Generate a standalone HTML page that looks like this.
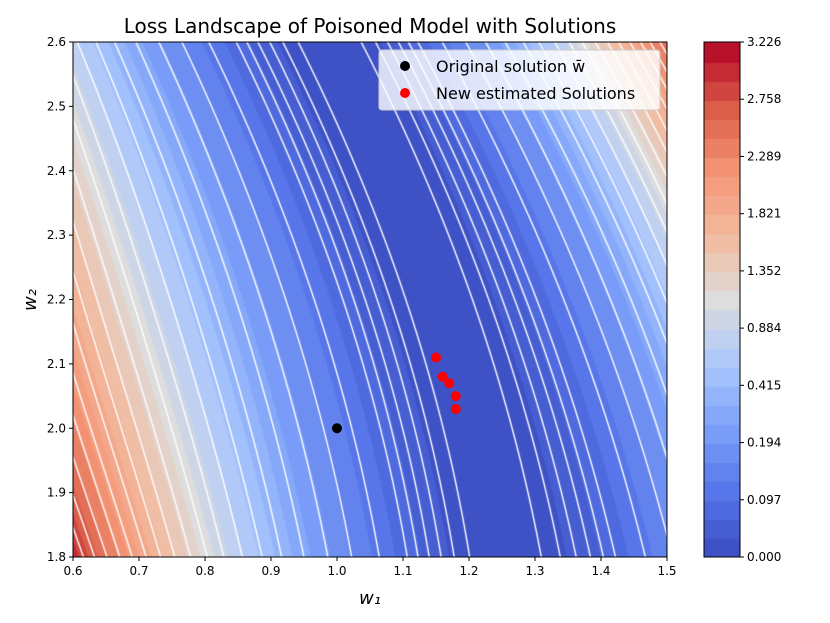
<!DOCTYPE html>
<html><head><meta charset="utf-8"><style>
body{margin:0;background:#fff;font-family:"DejaVu Sans","Liberation Sans",sans-serif}
#wrap{position:relative;width:830px;height:623px}
canvas{position:absolute}
svg{position:absolute;left:0;top:0}
</style></head><body>
<div id="wrap">
<canvas id="plot" width="594" height="515" style="left:73px;top:42px"></canvas>
<canvas id="cbar" width="36" height="515" style="left:704px;top:42px"></canvas>
<svg id="ov" width="830" height="623"></svg>
</div>
<script>
// data
const cbTicks=[0,0.097,0.194,0.415,0.884,1.352,1.821,2.289,2.758,3.226];
const valleyCenter=[1.21,-0.2417,-0.208]; // w1 center = a + b(w2-2) + e(w2-2)^2
const slopeLeft=[3.2];
const cubicLeft=[3.5,-2.5,9.0];  // a + b*z + e*z^2, z=w2-2
const slopeRight=[3.5,2.2];      // [top, bottom]
const cubicRight=[9.0];
const flatWidth=[0.07];
const lineLevels=[0.05,0.1,0.15,0.2,0.25,0.3,0.44,0.59,0.73,0.88,1.03,1.17,1.32,1.47,1.61,1.76,1.91,2.05,2.2,2.35,2.49,2.64,2.79,2.93,3.08];
const xTicks=[0.6,0.7,0.8,0.9,1.0,1.1,1.2,1.3,1.4,1.5];
const yTicks=[1.8,1.9,2.0,2.1,2.2,2.3,2.4,2.5,2.6];
const origW1=[1.0], origW2=[2.0];
const newW1=[1.15,1.16,1.17,1.18,1.18];
const newW2=[2.11,2.08,2.07,2.05,2.03];

const X0=73,X1=667,Y0=557,Y1=42;
const sx=v=>X0+(v-0.6)/(1.5-0.6)*(X1-X0);
const sy=v=>Y0-(v-1.8)/(2.6-1.8)*(Y0-Y1);
const VMAX=cbTicks[cbTicks.length-1];
const NB=27;
const anchors=[[0,[58,76,192]],[0.125,[85,116,232]],[0.25,[123,159,248]],[0.375,[170,199,253]],[0.5,[221,221,221]],[0.625,[242,185,158]],[0.75,[244,150,118]],[0.875,[218,92,72]],[1,[180,4,38]]];
function cw(t){for(let i=1;i<anchors.length;i++){if(t<=anchors[i][0]){const a=anchors[i-1],b=anchors[i],f=(t-a[0])/(b[0]-a[0]);return a[1].map((c,k)=>Math.round(c+(b[1][k]-c)*f));}}return anchors[8][1];}
function loss(w1,w2){
 const z=w2-2.0;
 const c=valleyCenter[0]+valleyCenter[1]*z+valleyCenter[2]*z*z;
 const f=(2.6-w2)/0.8;
 const d=w1-c, ad=Math.abs(d), s=flatWidth[0];
 const base=Math.sqrt(ad*ad+s*s)-s;
 if(d<0) return slopeLeft[0]*base+(cubicLeft[0]+cubicLeft[1]*z+cubicLeft[2]*z*z)*ad*ad*ad;
 return (slopeRight[0]+(slopeRight[1]-slopeRight[0])*f)*base+cubicRight[0]*ad*ad*ad;}
function band(L){return Math.max(0,Math.min(NB-1,Math.floor(L/VMAX*NB)));}
const cols=[];for(let b=0;b<NB;b++)cols.push(cw((b+0.5)/NB));
const c=document.getElementById('plot'),ctx=c.getContext('2d');
const W=c.width,H=c.height,img=ctx.createImageData(W,H);
const Lg=new Float32Array((W+2)*(H+2));
for(let y=-1;y<=H;y++)for(let x=-1;x<=W;x++){const w1=0.6+(x+0.5)/W*0.9,w2=2.6-(y+0.5)/H*0.8;Lg[(y+1)*(W+2)+(x+1)]=loss(w1,w2);}
for(let y=0;y<H;y++)for(let x=0;x<W;x++){
 const k=(y+1)*(W+2)+(x+1),L=Lg[k];
 const gx=(Lg[k+1]-Lg[k-1])/2,gy=(Lg[k+W+2]-Lg[k-W-2])/2,g=Math.hypot(gx,gy)+1e-9;
 let col=cols[band(L)];
 let dm=1e9;for(const lv of lineLevels){const dd=Math.abs(L-lv)/g;if(dd<dm)dm=dd;}
 const a=Math.max(0,Math.min(1,1.2-dm));
 const i=y*W+x;
 img.data[i*4]=Math.round(col[0]*(1-a)+255*a);img.data[i*4+1]=Math.round(col[1]*(1-a)+255*a);img.data[i*4+2]=Math.round(col[2]*(1-a)+255*a);img.data[i*4+3]=255;}
ctx.putImageData(img,0,0);
const cb=document.getElementById('cbar').getContext('2d');
for(let b=0;b<NB;b++){cb.fillStyle='rgb('+cols[b].join(',')+')';const y0=515-(b+1)*515/NB;cb.fillRect(0,Math.floor(y0),36,Math.ceil(515/NB)+1);}
const svg=document.getElementById('ov'),NS='http://www.w3.org/2000/svg';
function el(t,a,txt){const e=document.createElementNS(NS,t);for(const k in a)e.setAttribute(k,a[k]);if(txt!==undefined)e.textContent=txt;svg.appendChild(e);return e;}
let e=el('rect',{x:X0,y:Y1,width:X1-X0,height:Y0-Y1,fill:'none',stroke:'#000','stroke-width':1});


e=el('rect',{x:704,y:42,width:36,height:515,fill:'none',stroke:'#000','stroke-width':1});


xTicks.forEach(v=>{const x=sx(v);el('line',{x1:x,x2:x,y1:Y0,y2:Y0+4,stroke:'#000'});
 e=el('text',{x:x,y:Y0+18,'text-anchor':'middle','font-size':12},v.toFixed(1));
 
 });
yTicks.forEach(v=>{const y=sy(v);el('line',{x1:X0-4,x2:X0,y1:y,y2:y,stroke:'#000'});
 e=el('text',{x:X0-7,y:y+4,'text-anchor':'end','font-size':12},v.toFixed(1));
 
 });
cbTicks.forEach((v,i)=>{const y=557-i*515/(cbTicks.length-1);el('line',{x1:740,x2:744,y1:y,y2:y,stroke:'#000'});
 e=el('text',{x:747,y:y+4,'font-size':12},v.toFixed(3));
 
 });
e=el('text',{x:370,y:33,'text-anchor':'middle','font-size':20},'Loss Landscape of Poisoned Model with Solutions');


e=el('text',{x:370,y:604,'text-anchor':'middle','font-size':18,'font-style':'italic'},'w₁');


e=el('text',{x:36,y:300,'text-anchor':'middle','font-size':18,'font-style':'italic',transform:'rotate(-90 36 300)'},'w₂');


origW1.forEach((v,i)=>{e=el('circle',{cx:sx(v),cy:sy(origW2[i]),r:5,fill:'#000'});
 
 });
newW1.forEach((v,i)=>{e=el('circle',{cx:sx(v),cy:sy(newW2[i]),r:5,fill:'#f00'});
 
 });
e=el('rect',{x:379,y:50,width:281,height:60,rx:3,fill:'#fff','fill-opacity':0.8,stroke:'#ccc'});


el('circle',{cx:405,cy:66,r:5,fill:'#000'});
e=el('text',{x:436,y:72,'font-size':16},'Original solution w̄');


el('circle',{cx:405,cy:93,r:5,fill:'#f00'});
e=el('text',{x:436,y:99,'font-size':16},'New estimated Solutions');


</script>
</body></html>
